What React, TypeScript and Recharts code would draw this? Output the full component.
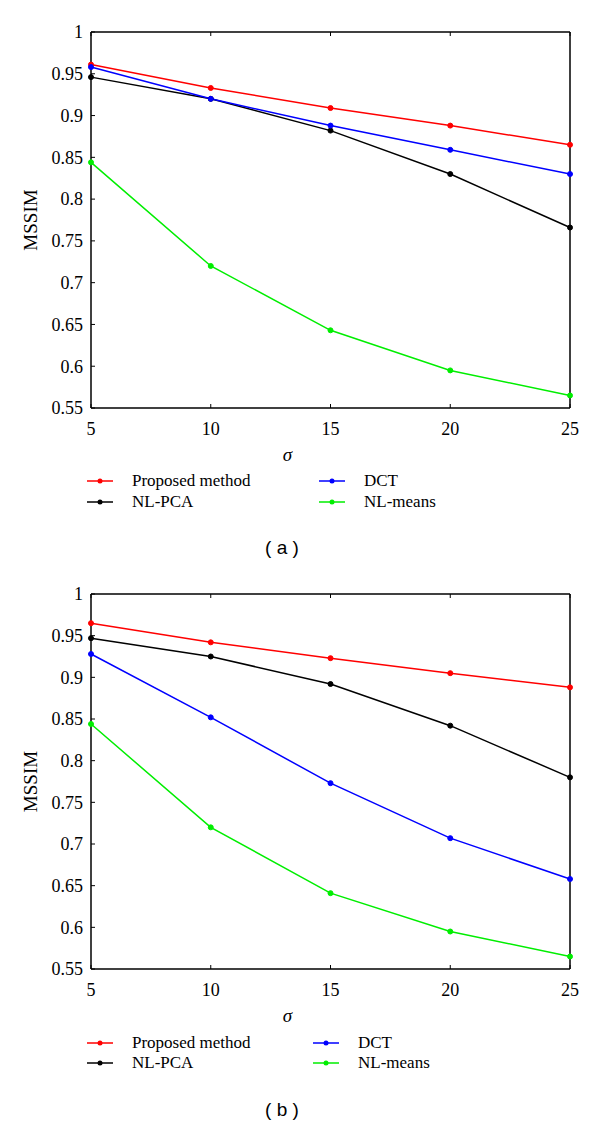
import React from 'react';
import { LineChart, Line, XAxis, YAxis, Legend } from 'recharts';

// noise level on the x axis
const sigmaLevels = [5, 10, 15, 20, 25];
const mssimTicks = [0.55, 0.6, 0.65, 0.7, 0.75, 0.8, 0.85, 0.9, 0.95, 1];

// panel (a)
const proposedA = [0.961, 0.933, 0.909, 0.888, 0.865];
const nlpcaA = [0.946, 0.92, 0.882, 0.83, 0.766];
const dctA = [0.958, 0.92, 0.888, 0.859, 0.83];
const nlmeansA = [0.844, 0.72, 0.643, 0.595, 0.565];

// panel (b)
const proposedB = [0.965, 0.942, 0.923, 0.905, 0.888];
const nlpcaB = [0.947, 0.925, 0.892, 0.842, 0.78];
const dctB = [0.928, 0.852, 0.773, 0.707, 0.658];
const nlmeansB = [0.844, 0.72, 0.641, 0.595, 0.565];

const series = [
    { key: 'proposed', name: 'Proposed method', color: '#ff0000' },
    { key: 'nlpca', name: 'NL-PCA', color: '#000000' },
    { key: 'dct', name: 'DCT', color: '#0000ff' },
    { key: 'nlmeans', name: 'NL-means', color: '#00ee00' },
];

const buildRows = (p: number[], n: number[], d: number[], m: number[]) =>
    sigmaLevels.map((s, i) => ({ sigma: s, proposed: p[i], nlpca: n[i], dct: d[i], nlmeans: m[i] }));

const rowsA = buildRows(proposedA, nlpcaA, dctA, nlmeansA);
const rowsB = buildRows(proposedB, nlpcaB, dctB, nlmeansB);

const serif = '"Liberation Serif", "Times New Roman", serif';
const noLabel = () => <g />;

// tick labels drawn at the spot the axis hands us
const XTick = (props: any) => (
    <text x={props.x} y={props.y} dy="0.71em" textAnchor="middle" fill="#000" fontSize={18} fontFamily={serif}>
        {props.payload.value}
    </text>
);

const YTick = (props: any) => (
    <text x={props.x} y={props.y} dy="0.35em" textAnchor="end" fill="#000" fontSize={18} fontFamily={serif}>
        {props.payload.value}
    </text>
);

const order = (v: string) => series.findIndex((s) => s.name === v);

const makeLegend = (colWidth: number, rowHeight: number) => (props: any) => {
    const items = [...(props.payload || [])].sort((a: any, b: any) => order(a.value) - order(b.value));
    return (
        <div
            style={{
                display: 'grid',
                gridTemplateColumns: `${colWidth}px auto`,
                gridTemplateRows: `repeat(2, ${rowHeight}px)`,
                gridAutoFlow: 'column',
                fontFamily: serif,
                fontSize: 17,
                color: '#000',
            }}
        >
            {items.map((entry: any) => (
                <div key={entry.value} style={{ display: 'flex', alignItems: 'center' }}>
                    <svg width={26} height={8}>
                        <line x1={0} y1={4} x2={26} y2={4} stroke={entry.color} strokeWidth={1.5} />
                        <circle cx={13} cy={4} r={2.5} fill={entry.color} />
                    </svg>
                    <span style={{ marginLeft: 19, whiteSpace: 'nowrap' }}>{entry.value}</span>
                </div>
            ))}
        </div>
    );
};

interface PanelProps {
    rows: any[];
    caption: string;
    top: number;
    height: number;
    marginTop: number;
    marginBottom: number;
    legendTop: number;
    legendCol: number;
    legendRow: number;
    captionTop: number;
}

function Panel({ rows, caption, top, height, marginTop, marginBottom, legendTop, legendCol, legendRow, captionTop }: PanelProps) {
    return (
        <div style={{ position: 'absolute', left: 0, top, width: 600, height, fontFamily: serif }}>
            <LineChart
                width={600}
                height={height}
                data={rows}
                margin={{ top: marginTop, right: 29, bottom: marginBottom, left: 31 }}
            >
                <XAxis
                    xAxisId="b"
                    dataKey="sigma"
                    type="number"
                    domain={[5, 25]}
                    ticks={sigmaLevels}
                    height={53}
                    stroke="#000"
                    axisLine={{ strokeWidth: 1.5 }}
                    tickSize={-4}
                    tickMargin={18}
                    tick={XTick}
                    label={{ value: 'σ', position: 'insideBottom', offset: 0, dx: -43, fill: '#000', fontSize: 19, fontStyle: 'italic', fontFamily: serif }}
                />
                <XAxis
                    xAxisId="t"
                    orientation="top"
                    dataKey="sigma"
                    type="number"
                    domain={[5, 25]}
                    ticks={sigmaLevels}
                    height={1}
                    stroke="#000"
                    axisLine={{ strokeWidth: 1.5 }}
                    tickSize={-4}
                    tick={noLabel}
                />
                <YAxis
                    yAxisId="l"
                    type="number"
                    domain={[0.55, 1]}
                    ticks={mssimTicks}
                    width={60}
                    stroke="#000"
                    axisLine={{ strokeWidth: 1.5 }}
                    tickSize={-4}
                    tickMargin={12}
                    tick={YTick}
                    label={{ value: 'MSSIM', angle: -90, position: 'center', dx: -31, fill: '#000', fontSize: 19, fontFamily: serif }}
                />
                <YAxis
                    yAxisId="r"
                    orientation="right"
                    type="number"
                    domain={[0.55, 1]}
                    ticks={mssimTicks}
                    width={1}
                    stroke="#000"
                    axisLine={{ strokeWidth: 1.5 }}
                    tickSize={-4}
                    tick={noLabel}
                />
                {series.map((s) => (
                    <Line
                        key={s.key}
                        xAxisId="b"
                        yAxisId="l"
                        type="linear"
                        dataKey={s.key}
                        name={s.name}
                        stroke={s.color}
                        strokeWidth={1.5}
                        dot={{ r: 2.5, fill: s.color, stroke: s.color, strokeWidth: 1 }}
                        isAnimationActive={false}
                    />
                ))}
                <Legend
                    layout="horizontal"
                    verticalAlign="middle"
                    align="center"
                    wrapperStyle={{ top: legendTop, left: 87 }}
                    content={makeLegend(legendCol, legendRow)}
                />
            </LineChart>
            <div
                style={{
                    position: 'absolute',
                    left: 0,
                    top: captionTop,
                    width: 564,
                    lineHeight: '24px',
                    textAlign: 'center',
                    fontFamily: '"Liberation Sans", Arial, sans-serif',
                    fontSize: 19,
                    color: '#000',
                    whiteSpace: 'pre',
                }}
            >
                {caption}
            </div>
        </div>
    );
}

export default function App() {
    return (
        <div style={{ position: 'absolute', left: 0, top: 0, width: 600, height: 1126, background: '#fff' }}>
            <Panel rows={rowsA} caption="( a )" top={0} height={560} marginTop={31} marginBottom={99}
                legendTop={470} legendCol={232} legendRow={21} captionTop={536} />
            <Panel rows={rowsB} caption="( b )" top={560} height={566} marginTop={33} marginBottom={104}
                legendTop={473} legendCol={226} legendRow={20} captionTop={538} />
        </div>
    );
}
